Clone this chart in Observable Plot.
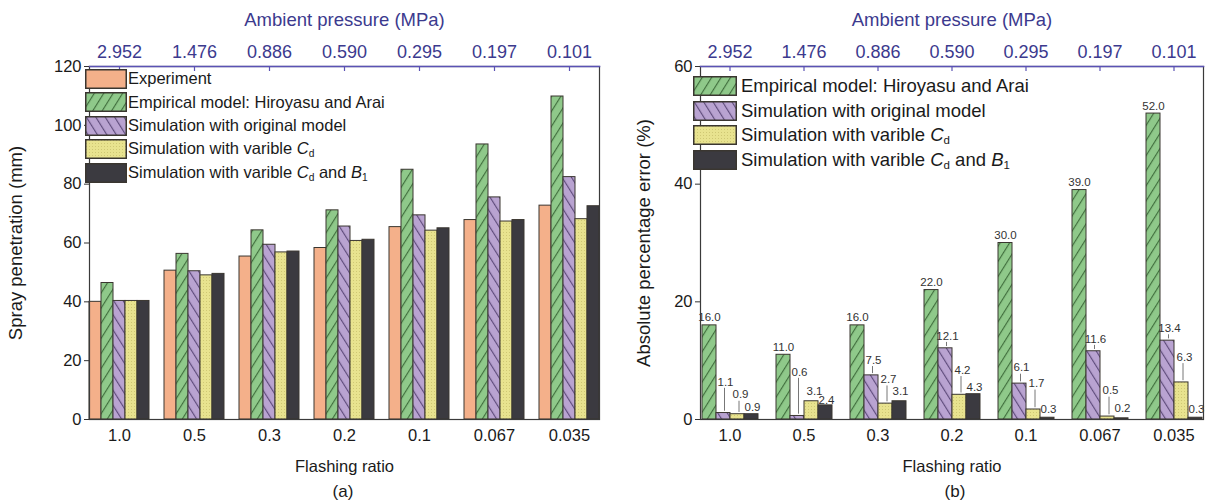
<!DOCTYPE html>
<html><head><meta charset="utf-8">
<script src="https://cdn.jsdelivr.net/npm/d3@7"></script>
<script src="https://cdn.jsdelivr.net/npm/@observablehq/plot@0.6"></script>
<style>
html,body{margin:0;padding:0;background:#fff}
body{width:1208px;height:502px;overflow:hidden;position:relative;font-family:"Liberation Sans",Arial,sans-serif;color:#1a1a1a}
#chartA,#chartB{position:absolute;top:0}
#chartA{left:0;width:640px}
#chartB{left:600px;width:624px}
#chartA svg,#chartB svg{max-width:none !important}
.legend{position:absolute}
.legend .row{display:flex;align-items:center;white-space:nowrap}
.legend .row svg{flex:none}
.legend sub{font-size:0.62em;vertical-align:-0.3em;font-style:normal}
.cap{position:absolute;font-size:17px;transform:translateX(-50%)}
</style></head>
<body>
<svg width="0" height="0" style="position:absolute;left:0;top:0">
<defs>
<pattern id="hatchGreen" patternUnits="userSpaceOnUse" width="8" height="8" patternTransform="rotate(32)">
<rect width="8" height="8" fill="#8fc98a"/>
<line x1="0.6" y1="0" x2="0.6" y2="8" stroke="#3d6b3a" stroke-width="1.1"/>
</pattern>
<pattern id="hatchPurple" patternUnits="userSpaceOnUse" width="8" height="8" patternTransform="rotate(-32)">
<rect width="8" height="8" fill="#b9a3d1"/>
<line x1="0.6" y1="0" x2="0.6" y2="8" stroke="#5a4878" stroke-width="1.1"/>
</pattern>
<pattern id="dotYellow" patternUnits="userSpaceOnUse" width="3" height="3">
<rect width="3" height="3" fill="#e8e38f"/>
<rect x="1" y="1" width="1" height="1" fill="#cfc874"/>
</pattern>
</defs>
</svg>
<div id="chartA"></div>
<div id="chartB"></div>
<div class="cap" style="left:343px;top:482px">(a)</div>
<div class="cap" style="left:955px;top:482px">(b)</div>
<script>
// ---------- data ----------
const flashingRatio = ["1.0","0.5","0.3","0.2","0.1","0.067","0.035"];
const ambientPressure = ["2.952","1.476","0.886","0.590","0.295","0.197","0.101"];

const seriesKeys = ["exp","emp","orig","cd","cdb1"];
const seriesLabels = ["Experiment","Empirical model: Hiroyasu and Arai","Simulation with original model",
  "Simulation with varible <i>C</i><sub>d</sub>","Simulation with varible <i>C</i><sub>d</sub> and <i>B</i><sub>1</sub>"];

// (a) spray penetration (mm)
const experiment = [40.0,50.6,55.4,58.3,65.4,67.8,72.7];
const empirical  = [46.4,56.3,64.3,71.1,84.9,93.5,109.8];
const original   = [40.3,50.4,59.4,65.6,69.4,75.5,82.4];
const varCd      = [40.3,49.0,56.8,60.7,64.2,67.3,68.1];
const varCdB1    = [40.3,49.5,57.1,61.1,65.0,67.8,72.5];

// (b) absolute percentage error (%)
const errEmpirical = [16.0,11.0,16.0,22.0,30.0,39.0,52.0];
const errOriginal  = [1.1,0.6,7.5,12.1,6.1,11.6,13.4];
const errVarCd     = [0.9,3.1,2.7,4.2,1.7,0.5,6.3];
const errVarCdB1   = [0.9,2.4,3.1,4.3,0.3,0.2,0.3];

// label lift above bar top (in % units) used for the annotation placement
const liftEmpirical = [1.3,1.3,1.3,1.3,1.3,1.3,1.3];
const liftOriginal  = [5.3,7.5,2.6,2.1,2.7,2.1,2.1];
const liftVarCd     = [3.3,1.7,4.1,4.2,4.4,4.4,4.3];
const liftVarCdB1   = [1.2,0.9,1.7,1.2,1.5,1.7,1.5];

// ---------- styles ----------
const fills = {exp:"#f4b08a", emp:"url(#hatchGreen)", orig:"url(#hatchPurple)", cd:"url(#dotYellow)", cdb1:"#3b3a40"};
const barStroke = "#3a3630";
const axisBlue = "#5a52b4";
const textBlue = "#3c3a8e";
const font = '"Liberation Sans", Arial, sans-serif';

function rows(arrays, keys, lifts) {
  return flashingRatio.flatMap((g, i) => arrays.map((arr, k) => ({
    group: g, series: keys[k], value: arr[i], lift: lifts ? lifts[k][i] : 0
  })));
}

function panel({data, keys, yMax, yTicks, yLabel, width, marginLeft, marginRight, labelOffset, tickLen, labels}) {
  const marks = [];
  for (const k of keys) {
    marks.push(Plot.barY(data.filter(d => d.series === k), {
      fx: "group", x: "series", y: "value", fill: fills[k], stroke: barStroke, strokeWidth: 1
    }));
  }
  if (labels) {
    const dxOf = {emp: 0, orig: 2, cd: 3, cdb1: 1};
    for (const k of keys) {
      const sub = data.filter(d => d.series === k);
      marks.push(Plot.ruleX(sub.filter(d => k !== "emp" && d.lift > 1.9), {
        fx: "group", x: "series", y1: d => d.value + 0.3, y2: d => d.value + d.lift - 1.1,
        stroke: "#777", strokeWidth: 1, dx: dxOf[k] / 2
      }));
      marks.push(Plot.text(sub, {
        fx: "group", x: "series", y: d => d.value + d.lift, text: d => d.value.toFixed(1),
        lineAnchor: "middle", fontSize: 11.5, fill: "#333", dx: dxOf[k]
      }));
    }
  }
  marks.push(
    Plot.frame({facet: "super", stroke: "#3a3a3a", strokeWidth: 1.2}),
    Plot.frame({facet: "super", anchor: "top", stroke: axisBlue, strokeWidth: 1.6}),
    Plot.ruleX(flashingRatio, {fx: d => d, x: null, y1: yMax, y2: yMax - tickLen, stroke: axisBlue, strokeWidth: 1.2}),
    Plot.axisY({ticks: yTicks, tickSize: 5, tickPadding: 3, fontSize: 16.5, label: null, stroke: "#333"}),
    Plot.axisFx({anchor: "bottom", tickSize: 0, tickPadding: 10, fontSize: 16.5, label: null}),
    Plot.axisFx({anchor: "top", tickSize: 0, tickPadding: 9, fontSize: 18, fill: textBlue,
      tickFormat: d => ambientPressure[flashingRatio.indexOf(d)], label: null}),
    Plot.text(["Ambient pressure (MPa)"], {facet: "super", frameAnchor: "top", dy: -46, fontSize: 18.5, fill: textBlue, lineAnchor: "middle"}),
    Plot.text(["Flashing ratio"], {facet: "super", frameAnchor: "bottom", dy: 47, fontSize: 16.5, fill: "#1a1a1a", lineAnchor: "middle"}),
    Plot.text([yLabel], {facet: "super", frameAnchor: "left", dx: -labelOffset, rotate: -90, fontSize: 18.5, fill: "#1a1a1a", lineAnchor: "middle", textAnchor: "middle"})
  );
  return Plot.plot({
    width, height: 502, marginLeft, marginRight, marginTop: 66, marginBottom: 83,
    style: {fontFamily: font, color: "#1a1a1a", background: "transparent", overflow: "visible", maxWidth: "none"},
    fx: {domain: flashingRatio, paddingInner: 0.2, paddingOuter: 0.1, label: null},
    x: {domain: keys, paddingInner: 0, paddingOuter: 0, axis: null},
    y: {domain: [0, yMax], label: null, axis: null},
    marks
  });
}

const dataA = rows([experiment, empirical, original, varCd, varCdB1], seriesKeys);
document.getElementById("chartA").append(panel({
  data: dataA, keys: seriesKeys, yMax: 120, yTicks: [0,20,40,60,80,100,120],
  yLabel: "Spray penetration (mm)", width: 640, marginLeft: 79, marginRight: 32,
  labelOffset: 73, tickLen: 1.7, labels: false
}));

const keysB = seriesKeys.slice(1);
const dataB = rows([errEmpirical, errOriginal, errVarCd, errVarCdB1], keysB,
  [liftEmpirical, liftOriginal, liftVarCd, liftVarCdB1]);
document.getElementById("chartB").append(panel({
  data: dataB, keys: keysB, yMax: 60, yTicks: [0,20,40,60],
  yLabel: "Absolute percentage error (%)", width: 624, marginLeft: 90, marginRight: 10,
  labelOffset: 56, tickLen: 0.85, labels: true
}));

// ---------- legends ----------
function legend(keys, labelIdx, left, top, rowH, swW, swH, fontSize, gap) {
  const div = document.createElement("div");
  div.className = "legend";
  div.style.left = left + "px"; div.style.top = top + "px"; div.style.fontSize = fontSize + "px";
  keys.forEach((k, i) => {
    const r = document.createElement("div");
    r.className = "row"; r.style.height = rowH + "px";
    r.innerHTML = `<svg width="${swW}" height="${swH}" style="margin-right:${gap}px"><rect x="0.75" y="0.75" width="${swW-1.5}" height="${swH-1.5}" fill="${fills[k]}" stroke="#3a3630" stroke-width="1.5"/></svg><span>${seriesLabels[labelIdx[i]]}</span>`;
    div.append(r);
  });
  document.body.append(div);
}
legend(seriesKeys, [0,1,2,3,4], 85, 67, 23.5, 42, 20, 16.5, 1);
legend(keysB, [1,2,3,4], 693, 74, 24.6, 44, 20, 18.5, 4);
</script>
</body></html>
